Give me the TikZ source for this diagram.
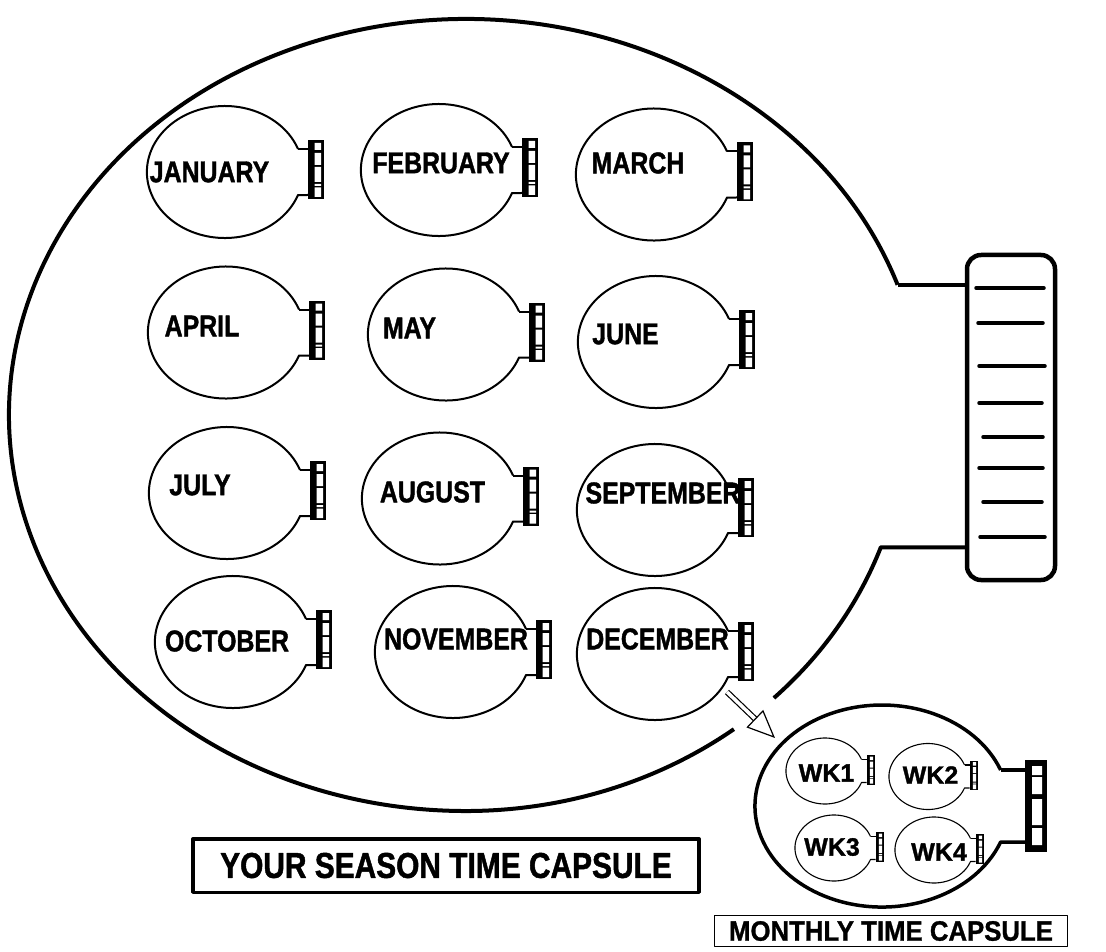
\documentclass[tikz,border=0pt]{standalone}
\usepackage{fontspec}
\usetikzlibrary{arrows.meta}
\newfontfamily\capfont{Liberation Sans}[FakeStretch=0.83, FakeBold=1.3]
\newfontfamily\wkfont{Liberation Sans}[FakeBold=1.3]
\newfontfamily\boxfont{Liberation Sans}[FakeStretch=0.92, FakeBold=1]

\tikzset{
  capsule line/.style={line width=2pt},
  capsule/.pic={
    \draw[capsule line] (73,-23) arc[start angle=-20.4, end angle=-339.6, x radius=78, y radius=66] -- (83,23);
    \draw[capsule line] (73,-23) -- (83,-23);
    \fill (83,-32) rectangle (99,27);
    \fill[white] (89.5,-29) rectangle (96,-22) (89.5,-19) rectangle (96,-7) (89.5,-5) rectangle (96,10)
      (89.5,12) rectangle (96,14) (89.5,15.5) rectangle (96,25);
  },
  month/.style={font={\capfont\bfseries\fontsize{30}{30}\selectfont}, inner sep=0pt},
  week/.style={font={\wkfont\bfseries\fontsize{25}{25}\selectfont}, inner sep=0pt},
  hollow/.style={double, double distance=3.5pt, line width=1.2pt, -{Triangle[open, length=28pt, width=24pt]}},
}

\begin{document}
\begin{tikzpicture}[x=1pt, y=-1pt, line join=round]
  \path[fill=white, use as bounding box] (0,0) rectangle (1106,952);

  % season capsule body, open where the arrow leaves
  \node[draw, line width=4.5pt, rounded corners=14pt, minimum width=88pt, minimum height=325pt] (bigcap) at (1011,417.5) {};
  \draw[line width=4pt] (897.6,284.8) coordinate (topneck)
    arc[start angle=-19.2, end angle=-270, x radius=457, y radius=396]
    arc[start angle=-270, end angle=-307.5, x radius=440, y radius=396];
  \draw[line width=4pt] (773.9,698)
    arc[start angle=-314.4, end angle=-340.5, x radius=440, y radius=396] coordinate (lowneck)
    -- (lowneck -| bigcap.west);
  \draw[line width=4pt] (topneck) -- (topneck -| bigcap.west);
  \draw[line width=3.5pt, line cap=round] (976,288) -- (1044,288) (978,323) -- (1043,323)
    (979,366) -- (1045,366) (979,403) -- (1042,403) (983,437) -- (1043,437)
    (979,468) -- (1043,468) (983,502) -- (1042,502) (980,537) -- (1045,537);

  % months
  \pic at (225,172) {capsule};
  \node[month] (jan) at (209.5,172) {JANUARY};
  \pic at (439,170) {capsule};
  \node[month] (feb) at (441,163) {FEBRUARY};
  \pic at (654,174.5) {capsule};
  \node[month] (mar) at (638,163) {MARCH};
  \pic at (226,332.5) {capsule};
  \node[month] (apr) at (202,326) {APRIL};
  \pic at (446,334.5) {capsule};
  \node[month] (may) at (409.5,328) {MAY};
  \pic at (656,342) {capsule};
  \node[month] (jun) at (625.5,334) {JUNE};
  \pic at (227,493) {capsule};
  \node[month] (jul) at (200,485) {JULY};
  \pic at (440,498.5) {capsule};
  \node[month] (aug) at (432.5,492) {AUGUST};
  \pic at (655,510) {capsule};
  \node[month] (sep) at (663,493) {SEPTEMBER};
  \pic at (233,642) {capsule};
  \node[month] (oct) at (227,641) {OCTOBER};
  \pic at (453,652) {capsule};
  \node[month] (nov) at (456,639) {NOVEMBER};
  \pic at (655,654) {capsule};
  \node[month] (dec) at (657.5,639) {DECEMBER};

  % monthly capsule
  \draw[line width=3.5pt] (1000.6,770) coordinate (wkneck)
    arc[start angle=-20.9, end angle=-339.1, x radius=127, y radius=101] -- (1025,842);
  \draw[line width=3.5pt] (wkneck) -- (1025,770);
  \fill (1025,760) rectangle (1047,852);
  \fill[white] (1032,766) rectangle (1042,775) (1032,777) rectangle (1042,794)
    (1032,799) rectangle (1042,825) (1032,828) rectangle (1042,845);

  \pic[scale=0.5, capsule line/.style={line width=1.1pt}] at (825,771) {capsule};
  \node[week] (wk1) at (826.5,773) {WK1};
  \pic[scale=0.5, capsule line/.style={line width=1.1pt}] at (928,776.5) {capsule};
  \node[week] (wk2) at (930.5,775) {WK2};
  \pic[scale=0.5, capsule line/.style={line width=1.1pt}] at (834,848) {capsule};
  \node[week] (wk3) at (832,847) {WK3};
  \pic[scale=0.5, capsule line/.style={line width=1.1pt}] at (934,850) {capsule};
  \node[week] (wk4) at (939,852) {WK4};

  \coordinate (arrowfrom) at (727,692);
  \coordinate (arrowto) at (775,738);
  \draw[hollow] (arrowfrom) -- (arrowto);

  \node[draw, line width=3.5pt, minimum width=506pt, minimum height=53.5pt,
    font={\capfont\bfseries\fontsize{36}{36}\selectfont}] (season) at (446,865.5) {YOUR SEASON TIME CAPSULE};
  \node[draw, line width=1.5pt, minimum width=353pt, minimum height=31pt,
    font={\boxfont\bfseries\fontsize{28}{28}\selectfont}] (monthly) at (891,931) {MONTHLY TIME CAPSULE};
\end{tikzpicture}
\end{document}
